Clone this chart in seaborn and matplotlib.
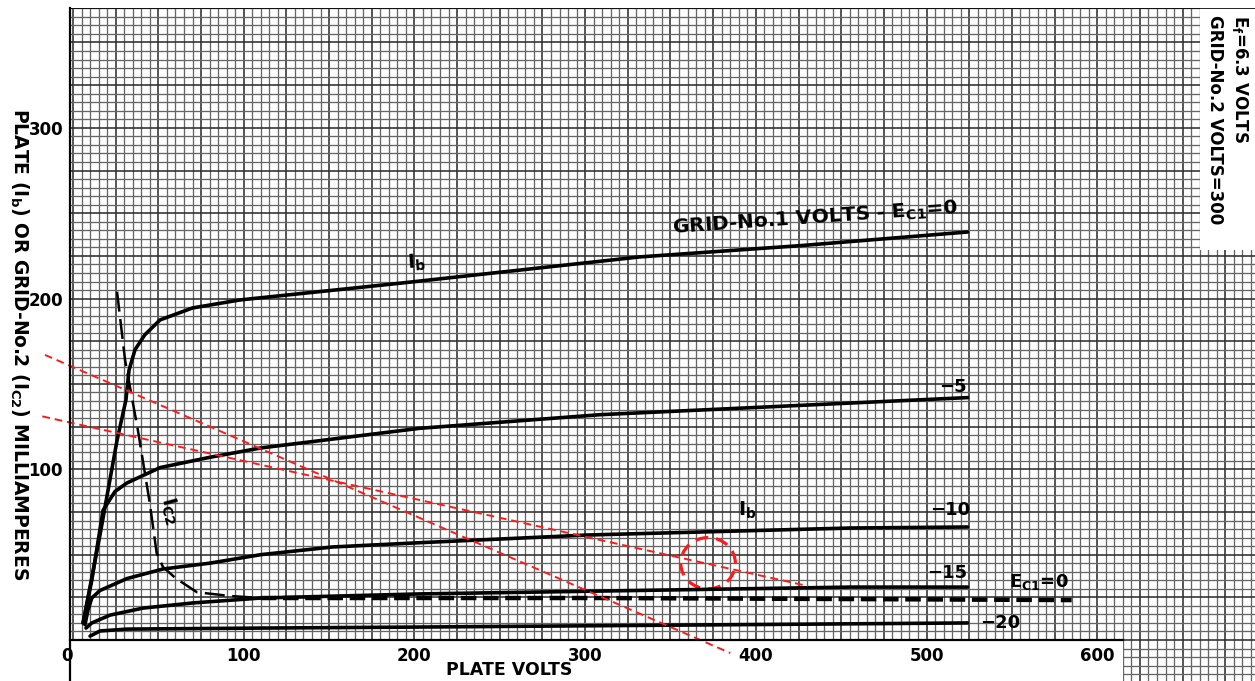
import numpy as np
import pandas as pd
import matplotlib
matplotlib.use("Agg")
import matplotlib.pyplot as plt
from matplotlib.patches import Rectangle, Ellipse
from matplotlib.ticker import MultipleLocator
import seaborn as sns

# plate volts / plate current (mA), one pair per grid-1 bias
v_ec0 = [5.9, 15.8, 25.8, 31, 32.8, 36.3, 42, 51, 70, 97.8, 191.6, 332, 426, 524]
i_ec0 = [10, 61.5, 117, 140.6, 158, 170, 178.7, 187.5, 194.5, 199.2, 209, 224.4, 231, 239]

v_ec5 = [5.9, 11, 17.6, 24.6, 31.6, 51, 80, 110, 203, 309, 524]
i_ec5 = [10, 35, 76, 87, 92, 101, 107, 112.5, 124, 132, 142]

v_ec10 = [7, 8.8, 11, 15.8, 31.6, 52.7, 80, 110, 152, 203, 301, 455, 524]
i_ec10 = [9, 17.6, 24.6, 29, 36, 41.6, 45, 50, 54.5, 57, 61.5, 65.6, 66.2]

v_ec15 = [7.6, 11, 21.7, 41, 70, 110, 203, 455, 524]
i_ec15 = [7, 10, 14.6, 18.7, 21.7, 24.6, 27, 31, 31]

v_ec20 = [10, 15.8, 31.6, 110, 203, 524]
i_ec20 = [2.3, 5.3, 6.4, 7, 7.6, 10]

# grid-No.2 current at Ec1 = 0 (dashed)
v_ic2_steep = [25.8, 30.5, 38, 45, 49, 52.7, 60, 72.6, 92, 110]
i_ic2_steep = [204, 164, 123, 80, 51, 42.8, 36.3, 28, 25.8, 24.6]
v_ic2_flat = [110, 309, 455, 585]
i_ic2_flat = [24.6, 24.6, 24, 23.4]

# red overlay (load lines and circle)
red_a_v = [-16.4, 385]
red_a_i = [167, -7.6]
red_b_v = [-18, 430.6]
red_b_i = [131, 31.6]
circle_v, circle_i = 372, 45

x_ticks = [0, 100, 200, 300, 400, 500, 600]
y_ticks = [100, 200, 300]

curves = pd.DataFrame({
    "volts": v_ec0 + v_ec5 + v_ec10 + v_ec15 + v_ec20,
    "ma": i_ec0 + i_ec5 + i_ec10 + i_ec15 + i_ec20,
    "ec1": (["0"] * len(v_ec0) + ["-5"] * len(v_ec5) + ["-10"] * len(v_ec10)
            + ["-15"] * len(v_ec15) + ["-20"] * len(v_ec20)),
})

sns.set_style("white")
plt.rcParams["font.family"] = ["DejaVu Sans"]
plt.rcParams["font.weight"] = "bold"
plt.rcParams["text.color"] = "black"
plt.rcParams["mathtext.default"] = "regular"

W, H = 1255, 681
fig = plt.figure(figsize=(W / 100, H / 100), dpi=100)
rect = [70 / W, 0, (W - 70) / W, (H - 8) / H]
xlim = (-1.76, 692.4)
ylim = (-24.0, 370.2)

# graph paper behind
bg = fig.add_axes(rect, zorder=0)
bg.set_xlim(xlim)
bg.set_ylim(ylim)
bg.set_axisbelow(True)
bg.xaxis.set_major_locator(MultipleLocator(25))
bg.xaxis.set_minor_locator(MultipleLocator(5))
bg.yaxis.set_major_locator(MultipleLocator(25))
bg.yaxis.set_minor_locator(MultipleLocator(5))
bg.grid(which="minor", color="#666666", lw=0.95)
bg.grid(which="major", color="#2e2e2e", lw=1.15)
bg.tick_params(which="both", length=0, labelbottom=False, labelleft=False)
for s in bg.spines.values():
    s.set_visible(False)
bg.add_patch(Rectangle((xlim[0], ylim[0]), 615 - xlim[0], -ylim[0],
                       facecolor="white", edgecolor="none", zorder=1))
bg.add_patch(Rectangle((660.2, 228.5), xlim[1] - 660.2, ylim[1] - 228.5,
                       facecolor="white", edgecolor="none", zorder=1))

ax = fig.add_axes(rect, zorder=1)
ax.patch.set_alpha(0)
ax.set_xlim(xlim)
ax.set_ylim(ylim)

sns.lineplot(data=curves, x="volts", y="ma", units="ec1", estimator=None,
             sort=False, color="black", lw=2.6, ax=ax, legend=False)
sns.lineplot(x=v_ic2_steep, y=i_ic2_steep, sort=False, color="black",
             lw=1.8, ax=ax).lines[-1].set_dashes((8, 3))
sns.lineplot(x=v_ic2_flat, y=i_ic2_flat, sort=False, color="black",
             lw=3.2, ax=ax).lines[-1].set_dashes((3.5, 1.5))

for lv, li in [(red_a_v, red_a_i), (red_b_v, red_b_i)]:
    ax.plot(lv, li, color="#ff1a1a", lw=1.4, dashes=(4, 2.5), clip_on=False)
ax.add_patch(Ellipse((circle_v, circle_i), 32, 30, fill=False,
                     edgecolor="#ff1a1a", lw=2.3, ls=(0, (4, 2.5))))

# axes
for s in ["top", "right"]:
    ax.spines[s].set_visible(False)
ax.spines["bottom"].set_position(("data", 0))
ax.spines["bottom"].set_bounds(xlim[0], 615)
ax.spines["bottom"].set_linewidth(1.6)
ax.spines["left"].set_linewidth(1.6)
ax.spines["bottom"].set_color("black")
ax.spines["left"].set_color("black")
ax.axhline(ylim[1], color="black", lw=1.2)
ax.set_xticks(x_ticks)
ax.set_yticks(y_ticks)
ax.tick_params(length=0, labelsize=12, pad=5, labelcolor="black")
ax.get_xticklabels()[0].set_ha("right")

ax.set_xlabel("PLATE VOLTS", fontsize=12.5, fontweight="bold", va="top",
              color="black")
ax.xaxis.set_label_coords(0.371, 0.03)
ax.set_ylabel("PLATE (I$_b$) OR GRID-No.2 (I$_{C2}$) MILLIAMPERES",
              fontsize=13.5, fontweight="bold", rotation=-90, va="center",
              color="black")
ax.yaxis.set_label_coords(-0.0425, 0.5)

tkw = dict(fontsize=13, color="black", fontweight="bold",
           ha="center", va="center")
ax.text(434.7, 247, "GRID-No.1 VOLTS - E$_{C1}$=0", rotation=4,
        **dict(tkw, fontsize=14.5))
ax.text(201.5, 220.8, "I$_b$", rotation=4, **dict(tkw, fontsize=14))
ax.text(395, 76, "I$_b$", **dict(tkw, fontsize=14))
ax.text(57, 76, "I$_{C2}$", rotation=-75, **dict(tkw, fontsize=14))
ax.text(515.5, 148, "\u22125", **tkw)
ax.text(514, 76, "\u221210", **tkw)
ax.text(512, 39, "\u221215", **tkw)
ax.text(543, 10, "\u221220", **tkw)
ax.text(566, 34, "E$_{C1}$=0", **tkw)

fig.text(1240 / W, 1 - 15 / H, "E$_f$=6.3 VOLTS", rotation=-90,
         ha="center", va="top", fontsize=12, fontweight="bold", color="black")
fig.text(1215 / W, 1 - 15 / H, "GRID-No.2 VOLTS=300", rotation=-90,
         ha="center", va="top", fontsize=12, fontweight="bold", color="black")

fig.savefig("out.png", dpi=100)
